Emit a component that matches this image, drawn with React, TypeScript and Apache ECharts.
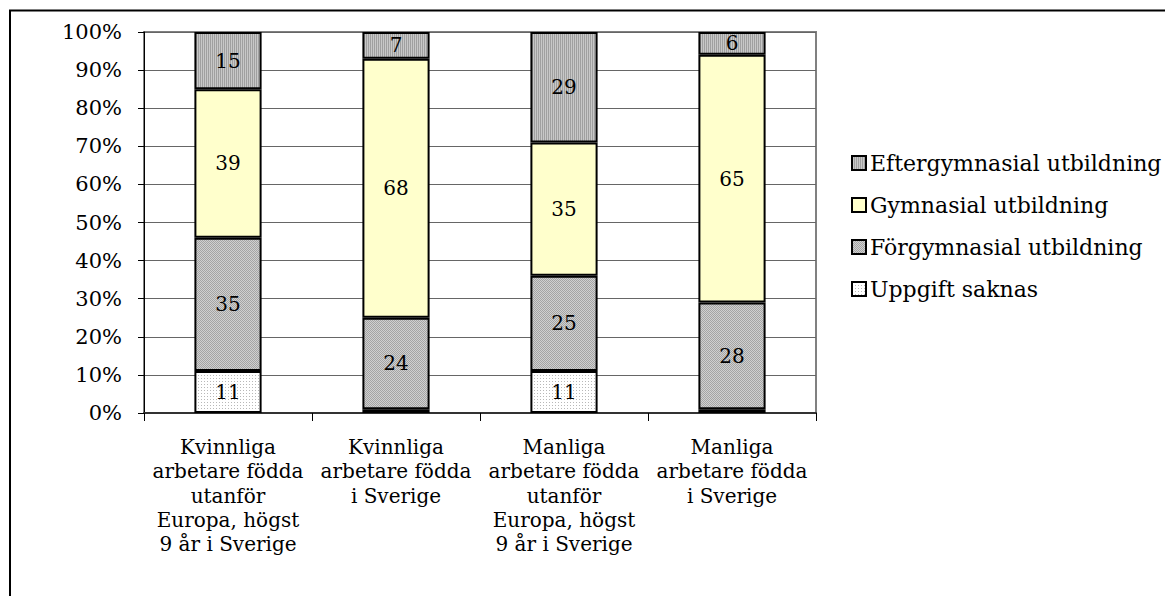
import React, { useEffect, useRef } from "react";
import * as echarts from "echarts";

const categories = [
  "Kvinnliga\narbetare födda\nutanför\nEuropa, högst\n9 år i Sverige",
  "Kvinnliga\narbetare födda\ni Sverige",
  "Manliga\narbetare födda\nutanför\nEuropa, högst\n9 år i Sverige",
  "Manliga\narbetare födda\ni Sverige",
];
const seriesNames = [
  "Uppgift saknas",
  "Förgymnasial utbildning",
  "Gymnasial utbildning",
  "Eftergymnasial utbildning",
];
const uppgiftSaknas = [11, 1, 11, 1];
const forgymnasial = [35, 24, 25, 28];
const gymnasial = [39, 68, 35, 65];
const eftergymnasial = [15, 7, 29, 6];
const yTicks = [0, 10, 20, 30, 40, 50, 60, 70, 80, 90, 100];

function makePattern(w: number, h: number, draw: (ctx: CanvasRenderingContext2D) => void) {
  const c = document.createElement("canvas");
  c.width = w;
  c.height = h;
  const ctx = c.getContext("2d")!;
  draw(ctx);
  return { image: c, repetition: "repeat" } as any;
}

export default function App() {
  const ref = useRef<HTMLDivElement>(null);
  useEffect(() => {
    if (!ref.current) return;
    const chart = echarts.init(ref.current, undefined, { renderer: "svg" });
    const serif = "DejaVu Serif";

    const pEfter = makePattern(2, 1, (ctx) => {
      ctx.fillStyle = "#c8c8c8";
      ctx.fillRect(0, 0, 2, 1);
      ctx.fillStyle = "#a0a0a0";
      ctx.fillRect(0, 0, 1, 1);
    });
    const pFor = makePattern(2, 2, (ctx) => {
      ctx.fillStyle = "#d0d0d0";
      ctx.fillRect(0, 0, 2, 2);
      ctx.fillStyle = "#a4a4a4";
      ctx.fillRect(0, 0, 1, 1);
      ctx.fillRect(1, 1, 1, 1);
    });
    const pUpp = makePattern(3, 3, (ctx) => {
      ctx.fillStyle = "#ffffff";
      ctx.fillRect(0, 0, 3, 3);
      ctx.fillStyle = "#b8b8b8";
      ctx.fillRect(0, 0, 1, 1);
    });
    const colors = [pUpp, pFor, "#ffffcc", pEfter];
    const dataSets = [uppgiftSaknas, forgymnasial, gymnasial, eftergymnasial];

    chart.setOption({
      animation: false,
      textStyle: { fontFamily: serif },
      grid: {
        left: 144,
        top: 32,
        right: 349,
        bottom: 183,
        show: true,
        borderColor: "#808080",
        borderWidth: 2,
        backgroundColor: "transparent",
      },
      graphic: [
        {
          type: "rect",
          shape: { x: 10, y: 10.5, width: 1200, height: 700 },
          style: { fill: "none", stroke: "#000", lineWidth: 2 },
          silent: true,
        },
      ],
      legend: {
        orient: "vertical",
        left: 846,
        top: 147,
        itemWidth: 14,
        itemHeight: 14,
        itemGap: 20,
        icon: "rect",
        data: [...seriesNames].reverse(),
        textStyle: { fontFamily: serif, fontSize: 22, color: "#000", padding: [0, 0, 0, -1] },
      },
      xAxis: {
        type: "category",
        data: categories,
        axisLine: { lineStyle: { color: "#333", width: 2 } },
        axisTick: { show: true, length: 8, lineStyle: { color: "#000" } },
        axisLabel: {
          fontFamily: serif,
          fontSize: 20,
          color: "#000",
          lineHeight: 24.3,
          margin: 22,
          interval: 0,
        },
      },
      yAxis: {
        type: "value",
        min: 0,
        max: 100,
        interval: 10,
        axisLine: { show: true, lineStyle: { color: "#000", width: 1 } },
        axisTick: { show: true, length: 6, lineStyle: { color: "#000" } },
        axisLabel: {
          fontFamily: serif,
          fontSize: 21,
          color: "#000",
          margin: 22,
          formatter: (v: number) => (yTicks.includes(v) ? v + "%" : ""),
        },
        splitLine: { show: true, lineStyle: { color: "#666", width: 1 } },
      },
      series: seriesNames.map((name, i) => ({
        name,
        type: "bar",
        stack: "total",
        barWidth: "40%",
        data: dataSets[i],
        itemStyle: { color: colors[i], borderColor: "#000", borderWidth: 2 },
        label: {
          show: true,
          position: "inside",
          fontFamily: serif,
          fontSize: 20,
          color: "#000",
          formatter: (p: any) => (p.value >= 2 ? String(p.value) : ""),
        },
      })),
    });
    return () => chart.dispose();
  }, []);
  return (
    <div
      ref={ref}
      style={{ position: "fixed", left: 0, top: 0, width: 1165, height: 596, background: "#fff" }}
    />
  );
}
